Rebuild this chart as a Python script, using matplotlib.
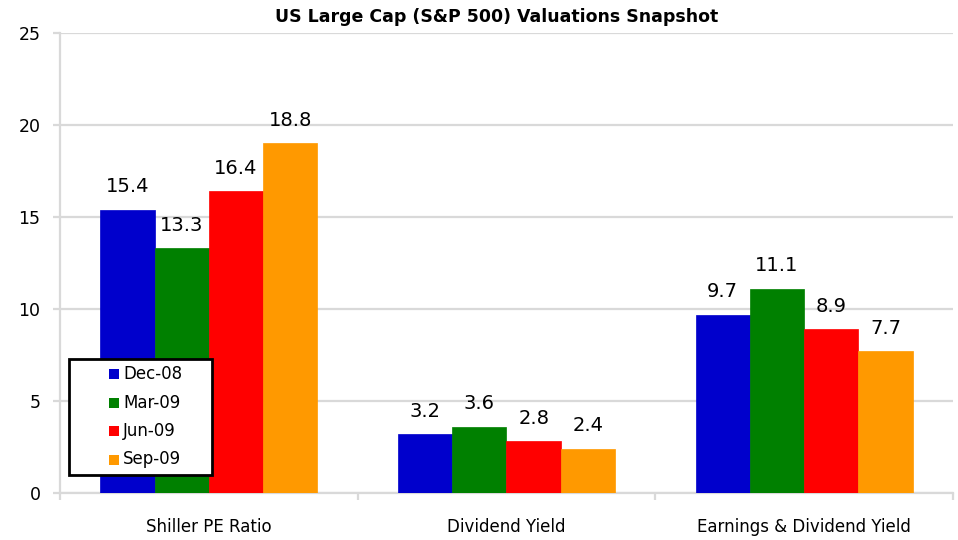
import matplotlib
matplotlib.use("Agg")
import matplotlib.pyplot as plt
import numpy as np
from matplotlib.patches import Rectangle

categories = ["Shiller PE Ratio", "Dividend Yield", "Earnings & Dividend Yield"]
series_names = ["Dec-08", "Mar-09", "Jun-09", "Sep-09"]
dec08 = [15.4, 3.2, 9.7]
mar09 = [13.3, 3.6, 11.1]
jun09 = [16.4, 2.8, 8.9]
sep09 = [19.0, 2.4, 7.7]
label_dec08 = ["15.4", "3.2", "9.7"]
label_mar09 = ["13.3", "3.6", "11.1"]
label_jun09 = ["16.4", "2.8", "8.9"]
label_sep09 = ["18.8", "2.4", "7.7"]
yticks = [0, 5, 10, 15, 20, 25]

colors = ["#0000CC", "#008000", "#FF0000", "#FF9900"]
series = [dec08, mar09, jun09, sep09]
labels = [label_dec08, label_mar09, label_jun09, label_sep09]

plt.rcParams['font.family'] = ['DejaVu Sans']

W, H = 958, 540
fig = plt.figure(figsize=(W/100, H/100), dpi=100)
ax = fig.add_axes([60/W, 1-493/H, 893/W, 460/H])

x = np.arange(len(categories))
n = len(series)
bw = 0.1825
for i, (vals, labs, c, name) in enumerate(zip(series, labels, colors, series_names)):
    pos = x + (i - (n-1)/2) * bw
    ax.bar(pos, vals, width=bw, color=c, edgecolor=c, linewidth=0.5, label=name, zorder=3)
    for px, v, t in zip(pos, vals, labs):
        ax.annotate(t, (px, v), xytext=(0, 23), textcoords='offset pixels',
                    ha='center', va='center', fontsize=14, color='black', zorder=4)

ax.set_xlim(-0.5, len(categories) - 0.5)
ax.set_ylim(0, 25)
ax.set_yticks(yticks)
ax.set_yticklabels([str(t) for t in yticks], fontsize=12.5)
ax.yaxis.grid(True, color='#D9D9D9', linewidth=1.6, zorder=0)
ax.set_axisbelow(True)

ax.set_xticks(x)
ax.set_xticklabels(categories, fontsize=12)
ax.tick_params(axis='x', length=0, pad=18)
ax.set_xticks(np.arange(len(categories) + 1) - 0.5, minor=True)
ax.tick_params(axis='x', which='minor', length=5, width=1.6, color='#D9D9D9')
ax.tick_params(axis='y', length=5, width=1.6, color='#D9D9D9', pad=9)

for s in ['top', 'right']:
    ax.spines[s].set_visible(False)
for s in ['left', 'bottom']:
    ax.spines[s].set_color('#D9D9D9')
    ax.spines[s].set_linewidth(1.6)

# legend box drawn in figure pixel coordinates
def fx(px):
    return px / W
def fy(py):
    return 1 - py / H

frame = Rectangle((fx(69), fy(475)), (212-69)/W, (475-359)/H, transform=fig.transFigure,
                  facecolor='white', edgecolor='black', linewidth=2, zorder=10)
fig.add_artist(frame)
row_y = [374, 402.5, 431, 459.5]
for name, c, ry in zip(series_names, colors, row_y):
    fig.add_artist(Rectangle((fx(109), fy(ry + 5)), 10/W, 10/H, transform=fig.transFigure,
                             facecolor=c, edgecolor='none', zorder=11))
    fig.text(fx(123), fy(ry), name, ha='left', va='center', fontsize=12, zorder=12)

fig.text(497/W, 1-17/H, "US Large Cap (S&P 500) Valuations Snapshot",
         ha='center', va='center', fontsize=12.5, fontweight='bold')

fig.savefig("out.png", dpi=100)
